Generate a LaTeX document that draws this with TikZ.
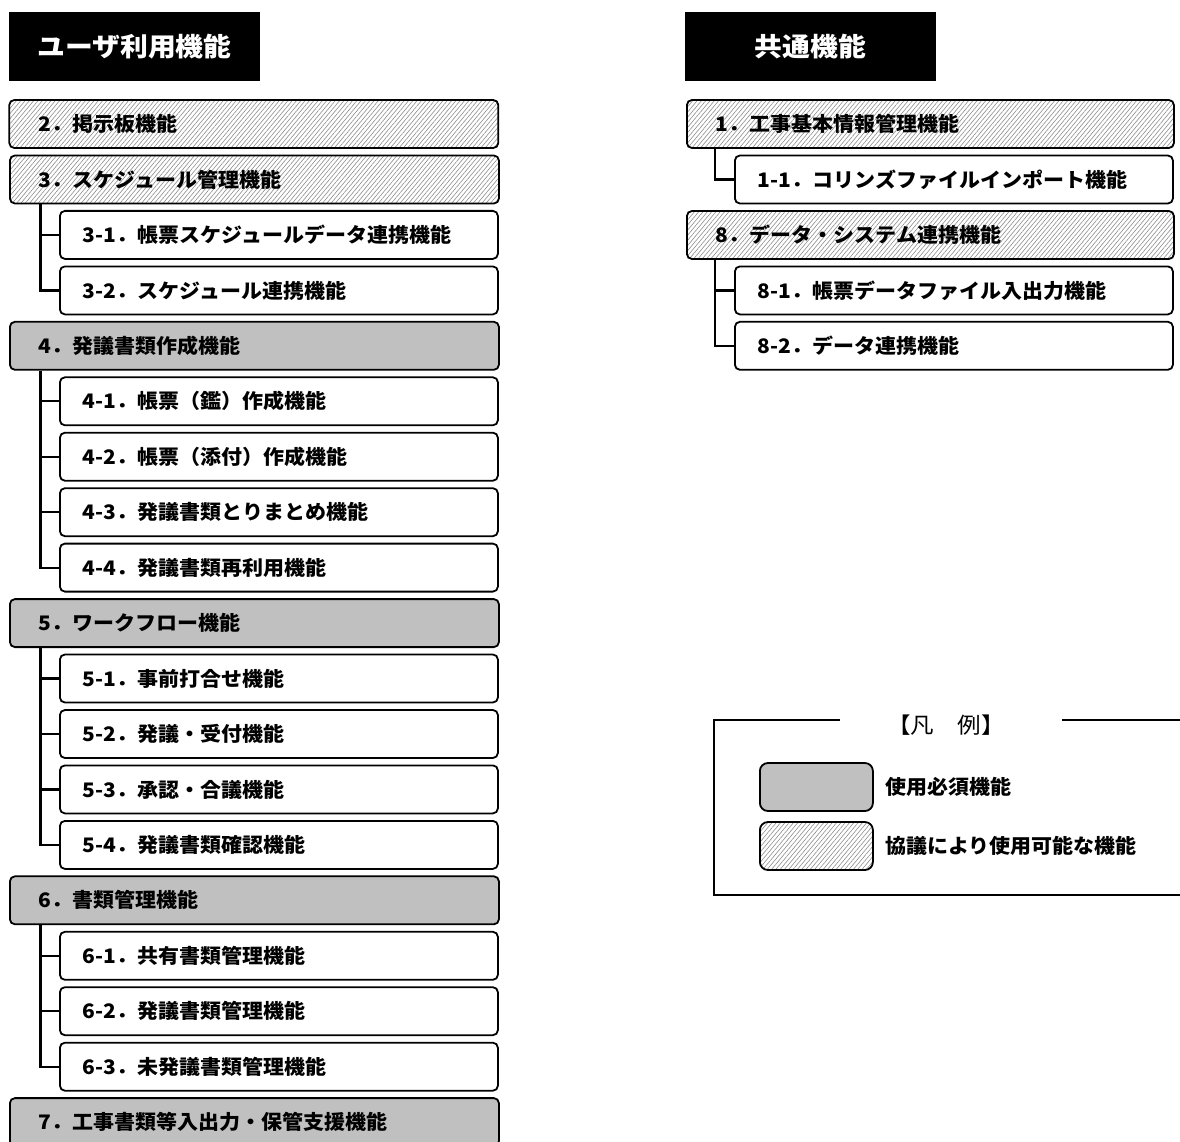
\documentclass[tikz,border=0pt]{standalone}
\usepackage{fontspec}
\newfontfamily\jp{Noto Sans CJK JP}[FakeStretch=1.05]
\newfontfamily\jph{Noto Sans CJK JP}[FakeStretch=1.07]
\usetikzlibrary{patterns.meta,calc}
\definecolor{boxgray}{RGB}{192,192,192}
\definecolor{hatchgray}{RGB}{140,140,140}
\tikzset{
  base/.style={draw, line width=1.8pt, rounded corners=5pt, minimum height=48pt,
    inner ysep=0pt, align=left, anchor=west, font=\jp\bfseries\fontsize{20}{22}\selectfont},
  lparent/.style={base, text width=431pt, inner xsep=29pt},
  rparent/.style={base, text width=429pt, inner xsep=29pt},
  child/.style={base, fill=white, text width=392pt, inner xsep=23pt},
  must/.style={fill=boxgray},
  opt/.style={pattern={Lines[angle=50,distance=3.3pt,line width=0.6pt]}, pattern color=hatchgray},
  header/.style={fill=black, text=white, minimum width=251pt, minimum height=69pt,
    inner sep=0pt, font=\jph\bfseries\fontsize{26}{28}\selectfont},
  conn/.style={line width=2.2pt},
  legtext/.style={anchor=west, inner sep=0pt, font=\jp\bfseries\fontsize{20}{22}\selectfont}
}
\begin{document}
\begin{tikzpicture}[x=1pt,y=-1pt]
\useasboundingbox (0,0) rectangle (1180,1142);
\clip (0,0) rectangle (1180,1142);
% headers
\node[header] (hL) at (134.5,46.5) {ユーザ利用機能};
\node[header] (hR) at (810.5,47) {共通機能};
% left column
\node[lparent,opt]  (p2)  at (9,124)    {2．掲示板機能};
\node[lparent,opt]  (p3)  at (9,179.5)  {3．スケジュール管理機能};
\node[child]        (c31) at (59,234.9) {3-1．帳票スケジュールデータ連携機能};
\node[child]        (c32) at (59,290.4) {3-2．スケジュール連携機能};
\node[lparent,must] (p4)  at (9,345.8)  {4．発議書類作成機能};
\node[child]        (c41) at (59,401.3) {4-1．帳票（鑑）作成機能};
\node[child]        (c42) at (59,456.7) {4-2．帳票（添付）作成機能};
\node[child]        (c43) at (59,512.2) {4-3．発議書類とりまとめ機能};
\node[child]        (c44) at (59,567.6) {4-4．発議書類再利用機能};
\node[lparent,must] (p5)  at (9,623.1)  {5．ワークフロー機能};
\node[child]        (c51) at (59,678.5) {5-1．事前打合せ機能};
\node[child]        (c52) at (59,734)   {5-2．発議・受付機能};
\node[child]        (c53) at (59,789.4) {5-3．承認・合議機能};
\node[child]        (c54) at (59,844.9) {5-4．発議書類確認機能};
\node[lparent,must] (p6)  at (9,900.3)  {6．書類管理機能};
\node[child]        (c61) at (59,955.8) {6-1．共有書類管理機能};
\node[child]        (c62) at (59,1011.2){6-2．発議書類管理機能};
\node[child]        (c63) at (59,1066.7){6-3．未発議書類管理機能};
\node[lparent,must] (p7)  at (9,1122.1) {7．工事書類等入出力・保管支援機能};
% right column
\node[rparent,opt]  (p1)  at (686,124)   {1．工事基本情報管理機能};
\node[child]        (c11) at (734,179.5) {1-1．コリンズファイルインポート機能};
\node[rparent,opt]  (p8)  at (686,235)   {8．データ・システム連携機能};
\node[child]        (c81) at (734,290.4) {8-1．帳票データファイル入出力機能};
\node[child]        (c82) at (734,345.8) {8-2．データ連携機能};
% connectors
\draw[conn] ($(p3.south west)+(31.5,0)$) coordinate (t3) |- (c32.west);
\draw[conn] (c31.west -| t3) -- (c31.west);
\draw[conn] ($(p4.south west)+(31.5,0)$) coordinate (t4) |- (c44.west);
\foreach \c in {c41,c42,c43} \draw[conn] (\c.west -| t4) -- (\c.west);
\draw[conn] ($(p5.south west)+(31.5,0)$) coordinate (t5) |- (c54.west);
\foreach \c in {c51,c52,c53} \draw[conn] (\c.west -| t5) -- (\c.west);
\draw[conn] ($(p6.south west)+(31.5,0)$) coordinate (t6) |- (c63.west);
\foreach \c in {c61,c62} \draw[conn] (\c.west -| t6) -- (\c.west);
\draw[conn] ($(p1.south west)+(29,0)$) coordinate (t1) |- (c11.west);
\draw[conn] ($(p8.south west)+(29,0)$) coordinate (t8) |- (c82.west);
\draw[conn] (c81.west -| t8) -- (c81.west);
% legend
\coordinate (lgA) at (840,720);
\coordinate (lgB) at (714,895);
\coordinate (lgC) at (1180,895);
\coordinate (lgD) at (1062,720);
\coordinate (lgE) at (1180,720);
\draw[line width=1.8pt] (lgA) -| (lgB) -- (lgC);
\draw[line width=1.8pt] (lgD) -- (lgE);
\node[font=\jph\fontsize{22}{24}\selectfont, inner sep=0pt] (lgT) at (946,725) {【凡　例】};
\node[base,must,rounded corners=8pt,minimum width=113pt] (lgM) at (759,787) {};
\node[base,opt,rounded corners=8pt,minimum width=113pt] (lgO) at (759,846) {};
\node[legtext] (lgMt) at (885,787) {使用必須機能};
\node[legtext] (lgOt) at (885,846) {協議により使用可能な機能};
\end{tikzpicture}
\end{document}
